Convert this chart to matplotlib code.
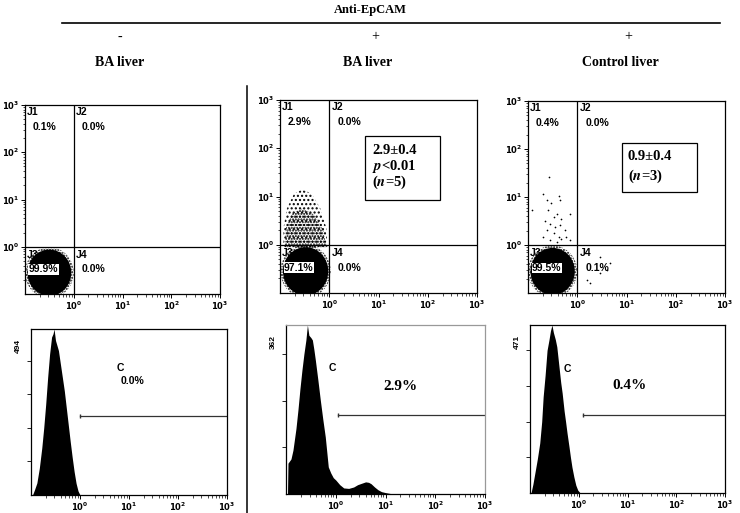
import matplotlib
matplotlib.use("Agg")
import matplotlib.pyplot as plt
from matplotlib.patches import Ellipse, Polygon, Rectangle
import numpy as np

plt.rcParams['font.family'] = ['Liberation Sans', 'DejaVu Sans']
plt.rcParams['hatch.linewidth'] = 1.0

W, H = 740, 513

# column headings
treatment = ["-", "+", "+"]
tissue = ["BA liver", "BA liver", "Control liver"]

# quadrant percentages J1, J2, J3, J4
quad_pct = [["0.1%", "0.0%", "99.9%", "0.0%"],
            ["2.9%", "0.0%", "97.1%", "0.0%"],
            ["0.4%", "0.0%", "99.5%", "0.1%"]]

# dense J3 populations (log10 units)
core_x = [-0.50, -0.48, -0.50]
core_y = [-0.55, -0.55, -0.55]
core_w = [0.90, 0.92, 0.90]
core_h = [0.98, 1.00, 0.98]

# EpCAM+ cloud of BA liver (log10 units, outline)
cloud_x = [-0.93, -0.93, -0.86, -0.72, -0.55, -0.35, -0.18, -0.06, -0.04]
cloud_y = [-0.05, 0.35, 0.75, 1.05, 1.15, 1.05, 0.75, 0.35, -0.05]
dense_x = [-0.90, -0.88, -0.75, -0.55, -0.30, -0.12, -0.06]
dense_y = [-0.05, 0.35, 0.65, 0.75, 0.62, 0.30, -0.05]

# sparse events of control liver (log10 units)
ctrl_x = [-0.57, -0.69, -0.62, -0.54, -0.38, -0.35, -0.92, -0.59, -0.48, -0.42,
          -0.32, -0.15, -0.65, -0.55, -0.45, -0.35, -0.25, -0.62, -0.48, -0.38,
          -0.32, -0.55, -0.42, -0.69, -0.22, -0.15, 0.46, 0.19, 0.26, 0.46,
          0.67, 0.60]
ctrl_y = [1.42, 1.07, 0.94, 0.87, 1.03, 0.93, 0.73, 0.72, 0.58, 0.65,
          0.55, 0.65, 0.51, 0.44, 0.37, 0.41, 0.31, 0.31, 0.24, 0.17,
          0.13, 0.10, 0.06, 0.17, 0.17, 0.10, -0.25, -0.73, -0.80, -0.59,
          -0.38, -0.52]

# stats boxes
box_lines = [None,
             ["2.9\u00b10.4", "$\\mathbfit{p}$<0.01", "($\\mathbfit{n}$=5)"],
             ["0.9\u00b10.4", "($\\mathbfit{n}$=3)"]]

# histograms (log10 fluorescence, counts)
h1_x = [-0.97, -0.93, -0.88, -0.83, -0.78, -0.74, -0.70, -0.66, -0.62, -0.58,
        -0.55, -0.53, -0.50, -0.47, -0.44, -0.40, -0.36, -0.32, -0.28, -0.24,
        -0.20, -0.16, -0.12, -0.08, -0.04, 0.0]
h1_y = [0, 15, 36, 80, 140, 200, 270, 350, 420, 470,
        480, 494, 460, 445, 430, 390, 350, 310, 260, 210,
        160, 113, 70, 35, 12, 0]
h2_x = [-0.97, -0.96, -0.90, -0.86, -0.80, -0.76, -0.72, -0.68, -0.64, -0.60,
        -0.57, -0.54, -0.50, -0.47, -0.44, -0.41, -0.36, -0.31, -0.26, -0.21,
        -0.15, -0.10, -0.05, 0.0, 0.08, 0.16, 0.26, 0.36, 0.44, 0.52,
        0.60, 0.66, 0.71, 0.78, 0.85, 0.92, 1.0, 1.1, 1.2]
h2_y = [0, 66, 75, 94, 140, 180, 225, 265, 300, 330,
        362, 340, 335, 330, 310, 287, 245, 201, 160, 122,
        58, 45, 35, 30, 20, 13, 12, 15, 20, 23,
        26, 25, 22, 15, 9, 5, 3, 1, 0]
h3_x = [-0.98, -0.94, -0.90, -0.85, -0.80, -0.76, -0.73, -0.69, -0.65, -0.61,
        -0.58, -0.55, -0.52, -0.48, -0.45, -0.41, -0.37, -0.34, -0.30, -0.27,
        -0.24, -0.20, -0.17, -0.14, -0.10, -0.06, -0.02, 0.03]
h3_y = [0, 25, 56, 95, 140, 200, 270, 330, 400, 430,
        455, 471, 450, 430, 410, 360, 310, 280, 230, 200,
        168, 130, 100, 73, 45, 22, 8, 0]
hist_max = [494, 362, 471]
gate_level = [235, 169, 219]
gate_start = [0.0, 0.04, 0.09]
gate_pct = ["0.0%", "2.9%", "0.4%"]

fig = plt.figure(figsize=(W / 100, H / 100), dpi=100)


def px_axes(l, t, r, b):
    return fig.add_axes([l / W, 1 - b / H, (r - l) / W, (b - t) / H])


def fx(px):
    return px / W


def fy(py):
    return 1 - py / H


sup = {k: r"$\mathbf{10^{%d}}$" % k for k in range(4)}
minor = [k + np.log10(m) for k in range(-1, 3) for m in range(2, 10)]


def log_xaxis(ax):
    ax.set_xlim(-1, 3)
    ax.set_xticks([0, 1, 2, 3])
    ax.set_xticklabels([sup[k] for k in range(4)], fontsize=6)
    ax.set_xticks(minor, minor=True)
    ax.tick_params(axis='x', which='major', direction='out', length=3, width=0.7, pad=1)
    ax.tick_params(axis='x', which='minor', direction='out', length=1.8, width=0.5)


# header
fig.text(0.5, fy(10), "Anti-EpCAM", ha='center', va='center', fontsize=9,
         fontweight='bold', family='Liberation Serif')
fig.add_artist(plt.Line2D([fx(62), fx(720)], [fy(23), fy(23)], color='black', lw=1.2))
fig.add_artist(plt.Line2D([fx(247), fx(247)], [fy(86), fy(513)], color='black', lw=1.1))
for cx, tr in zip([120, 375, 628], treatment):
    fig.text(fx(cx), fy(37), tr, ha='center', va='center', fontsize=10,
             family='Liberation Serif')
for cx, ts in zip([120, 368, 620], tissue):
    fig.text(fx(cx), fy(63), ts, ha='center', va='center', fontsize=10,
             fontweight='bold', family='Liberation Serif')

# dot plots
scatter_px = [(25, 105, 220, 294), (280, 100, 477, 293), (528, 101, 725, 293)]
for i, rect in enumerate(scatter_px):
    ax = px_axes(*rect)
    ax.set_ylim(-1, 3)
    log_xaxis(ax)
    ax.set_yticks([0, 1, 2, 3])
    ax.set_yticklabels([sup[k] for k in range(4)], fontsize=6)
    ax.set_yticks(minor, minor=True)
    ax.tick_params(axis='y', which='major', direction='out', length=3, width=0.7, pad=1)
    ax.tick_params(axis='y', which='minor', direction='out', length=1.8, width=0.5)
    for s in ax.spines.values():
        s.set_linewidth(0.9)
    ax.axvline(0, color='black', lw=0.9)
    ax.axhline(0, color='black', lw=0.9)

    if i == 1:
        ax.add_patch(Polygon(list(zip(cloud_x, cloud_y)), closed=True, facecolor='none',
                             edgecolor='black', hatch='....', lw=0))
        ax.add_patch(Polygon(list(zip(dense_x, dense_y)), closed=True, facecolor='none',
                             edgecolor='black', hatch='......', lw=0))
    if i == 2:
        ax.scatter(ctrl_x, ctrl_y, s=1.5, c='black', lw=0)
    ax.add_patch(Ellipse((core_x[i], core_y[i]), core_w[i] + 0.1, core_h[i] + 0.1,
                         facecolor='none', edgecolor='black', hatch='......', lw=0))
    ax.add_patch(Ellipse((core_x[i], core_y[i]), core_w[i], core_h[i],
                         facecolor='black', edgecolor='none'))

    kw = dict(fontsize=7.5, fontweight='bold', va='center', ha='left')
    ax.text(-0.97, 2.85, "J1", **kw)
    ax.text(0.05, 2.85, "J2", **kw)
    ax.text(-0.97, -0.17, "J3", **kw)
    ax.text(0.05, -0.17, "J4", **kw)
    p = quad_pct[i]
    ax.text(-0.84, 2.54, p[0], **kw)
    ax.text(0.17, 2.54, p[1], **kw)
    ax.text(-0.92, -0.48, p[2], bbox=dict(facecolor='white', edgecolor='none', pad=0.3), **kw)
    ax.text(0.17, -0.48, p[3], **kw)

    if box_lines[i] is not None:
        lines = box_lines[i]
        if i == 1:
            ax.add_patch(Rectangle((0.73, 0.93), 1.52, 1.32, facecolor='white',
                                   edgecolor='black', lw=0.9))
            ys = [1.95, 1.63, 1.30]
            x0 = 0.87
        else:
            ax.add_patch(Rectangle((0.91, 1.11), 1.53, 1.02, facecolor='white',
                                   edgecolor='black', lw=0.9))
            ys = [1.84, 1.43]
            x0 = 1.03
        for txt, yy in zip(lines, ys):
            ax.text(x0, yy, txt, fontsize=10.5, fontweight='bold', va='center', ha='left',
                    family='Liberation Serif', math_fontfamily='stix')

# histograms
hist_px = [(31, 329, 227, 495), (286, 325, 485, 494), (530, 325, 725, 493)]
hist_x = [h1_x, h2_x, h3_x]
hist_y = [h1_y, h2_y, h3_y]
c_pos = [(0.82, 378), (-0.07, 270), (-0.24, 348)]
pct_pos = [(1.08, 339), (1.31, 231), (1.05, 300)]
for i, rect in enumerate(hist_px):
    ax = px_axes(*rect)
    ax.set_ylim(0, hist_max[i])
    log_xaxis(ax)
    ax.set_yticks([100, 200, 300, 400] if hist_max[i] > 400 else [100, 200, 300])
    ax.set_yticklabels([])
    ax.tick_params(axis='y', direction='out', length=3, width=0.6)
    frame = '#999999' if i == 1 else 'black'
    for s in ax.spines.values():
        s.set_linewidth(0.9)
        s.set_color(frame)
    ax.spines['left'].set_color('black')
    ax.spines['bottom'].set_color('black')
    ax.fill_between(hist_x[i], hist_y[i], 0, color='black', lw=0)
    ax.plot([gate_start[i], 3], [gate_level[i], gate_level[i]], color='#333333', lw=0.9)
    ax.plot([gate_start[i]], [gate_level[i]], marker='|', color='#333333', ms=3)
    ax.text(c_pos[i][0], c_pos[i][1], "C", fontsize=7.5, fontweight='bold',
            ha='center', va='center')
    if i == 0:
        ax.text(pct_pos[i][0], pct_pos[i][1], gate_pct[i], fontsize=7.5,
                fontweight='bold', ha='center', va='center')
    else:
        ax.text(pct_pos[i][0], pct_pos[i][1], gate_pct[i], fontsize=11,
                fontweight='bold', ha='center', va='center', family='Liberation Serif')
    ax.text(-0.065, 0.9, str(hist_max[i]), transform=ax.transAxes, rotation=90,
            fontsize=6, fontweight='bold', ha='center', va='center')

fig.savefig("out.png", dpi=100)
